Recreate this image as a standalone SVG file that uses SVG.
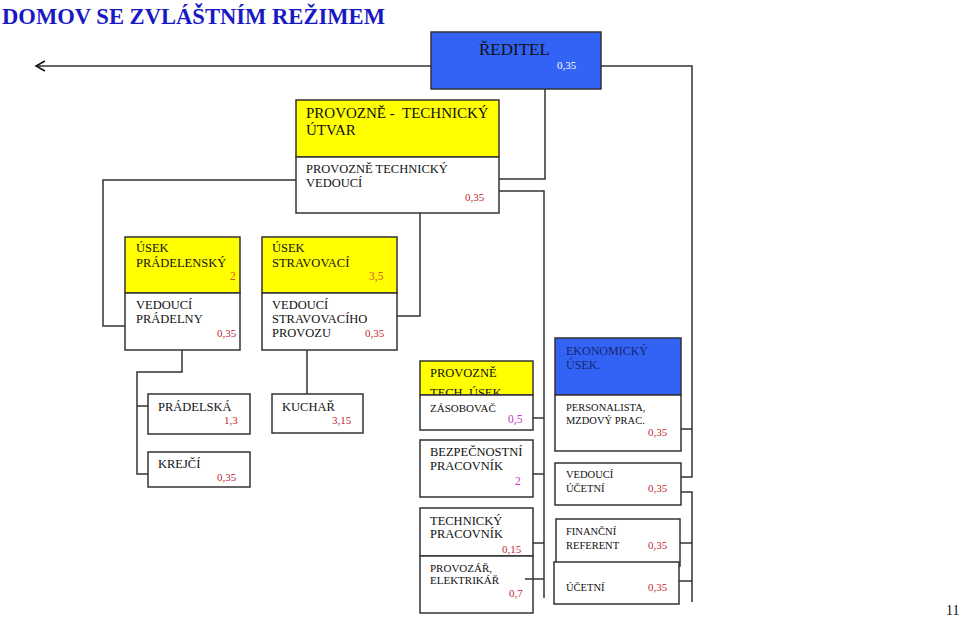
<svg xmlns="http://www.w3.org/2000/svg" width="960" height="617" viewBox="0 0 960 617" font-family="'Liberation Serif', 'Tinos', 'DejaVu Serif', 'Times New Roman', serif">
<defs>
<style>
.box{stroke:#333;stroke-width:1.5;}
.w{fill:#fff;}
.y{fill:#ffff00;}
.b{fill:#3263f5;}
text{font-family:'Liberation Serif','Tinos','DejaVu Serif','Times New Roman',serif;fill:#111;}
.t15{font-size:15px;}
.t12{font-size:12.5px;}
.t11{font-size:11px;}
.t105{font-size:10.5px;}
.v{font-size:11px;fill:#bf2a33;}
.vo{font-size:11.5px;fill:#dc5a2a;}
.vm{font-size:11.5px;fill:#cc33cc;}
.c{fill:none;stroke:#333;stroke-width:1.5;}
</style>
<marker id="open" markerUnits="userSpaceOnUse" markerWidth="14" markerHeight="14" refX="10" refY="7" orient="auto">
<path d="M1,2 L10,7 L1,12" fill="none" stroke="#111" stroke-width="1.5"/>
</marker>
</defs>
<rect width="960" height="617" fill="#fff"/>

<text x="2" y="24" font-size="23" font-weight="bold" style="fill:#1919c4" textLength="383" lengthAdjust="spacingAndGlyphs">DOMOV SE ZVLÁŠTNÍM REŽIMEM</text>

<g id="connectors">
<line class="c" x1="431" y1="66" x2="36" y2="66" marker-end="url(#open)"/>
<polyline class="c" points="601,66 692,66 692,477 681,477"/>
<line class="c" x1="681" y1="429" x2="692" y2="429"/>
<polyline class="c" points="681,492 692,492 692,602"/>
<line class="c" x1="680" y1="543" x2="692" y2="543"/>
<line class="c" x1="679" y1="581" x2="692" y2="581"/>
<polyline class="c" points="545,89 545,179 499,179"/>
<polyline class="c" points="499,191 544,191 544,598"/>
<line class="c" x1="533" y1="418" x2="544" y2="418"/>
<line class="c" x1="533" y1="474" x2="544" y2="474"/>
<line class="c" x1="533" y1="543" x2="544" y2="543"/>
<polyline class="c" points="296,180 103,180 103,326 125,326"/>
<polyline class="c" points="420,213 420,316 397,316"/>
<polyline class="c" points="182,350 182,372 137,372 137,474 148,474"/>
<line class="c" x1="137" y1="406" x2="148" y2="406"/>
<line class="c" x1="307" y1="350" x2="307" y2="394"/>
</g>

<g id="reditel">
<rect class="box b" x="431" y="32" width="170" height="57"/>
<text x="479" y="55" font-size="17">ŘEDITEL</text>
<text x="557" y="69" font-size="11" style="fill:#fff">0,35</text>
</g>

<g id="pt-utvar">
<rect class="box y" x="296" y="100" width="203" height="57"/>
<rect class="box w" x="296" y="157" width="203" height="56"/>
<text class="t15" x="306" y="118" xml:space="preserve">PROVOZNĚ -  TECHNICKÝ</text>
<text class="t15" x="306" y="135">ÚTVAR</text>
<text class="t12" x="306" y="173">PROVOZNĚ TECHNICKÝ</text>
<text class="t12" x="306" y="187">VEDOUCÍ</text>
<text class="v" x="465" y="201">0,35</text>
</g>

<g id="usek-pradelensky">
<rect class="box y" x="125" y="237" width="115" height="56"/>
<rect class="box w" x="125" y="293" width="115" height="57"/>
<text class="t12" x="136" y="252">ÚSEK</text>
<text class="t12" x="136" y="267">PRÁDELENSKÝ</text>
<text class="vo" x="230" y="280">2</text>
<text class="t12" x="136" y="309">VEDOUCÍ</text>
<text class="t12" x="136" y="323">PRÁDELNY</text>
<text class="v" x="217" y="337">0,35</text>
</g>

<g id="usek-stravovaci">
<rect class="box y" x="262" y="237" width="135" height="56"/>
<rect class="box w" x="262" y="293" width="135" height="57"/>
<text class="t12" x="272" y="252">ÚSEK</text>
<text class="t12" x="272" y="267">STRAVOVACÍ</text>
<text class="vo" x="369" y="280">3,5</text>
<text class="t12" x="272" y="309">VEDOUCÍ</text>
<text class="t12" x="272" y="323">STRAVOVACÍHO</text>
<text class="t12" x="272" y="337">PROVOZU</text>
<text class="v" x="365" y="337">0,35</text>
</g>

<g id="pradelska">
<rect class="box w" x="148" y="394" width="102" height="40"/>
<text class="t12" x="158" y="411">PRÁDELSKÁ</text>
<text class="v" x="224" y="424">1,3</text>
</g>

<g id="krejci">
<rect class="box w" x="148" y="452" width="102" height="35"/>
<text class="t12" x="158" y="468">KREJČÍ</text>
<text class="v" x="217" y="481">0,35</text>
</g>

<g id="kuchar">
<rect class="box w" x="272" y="394" width="91" height="39"/>
<text class="t12" x="282" y="411">KUCHAŘ</text>
<text class="v" x="332" y="424">3,15</text>
</g>

<g id="pt-usek">
<rect class="box y" x="420" y="361" width="113" height="34"/>
<text class="t12" x="430" y="377">PROVOZNĚ</text>
<text class="t12" x="430" y="397">TECH. ÚSEK</text>
<rect class="box w" x="420" y="395" width="113" height="35"/>
<text class="t11" x="430" y="412">ZÁSOBOVAČ</text>
<text class="vm" x="508" y="423">0,5</text>
</g>

<g id="bezpecnostni">
<rect class="box w" x="420" y="440" width="113" height="57"/>
<text class="t12" x="430" y="456">BEZPEČNOSTNÍ</text>
<text class="t12" x="430" y="470">PRACOVNÍK</text>
<text class="vm" x="515" y="485">2</text>
</g>

<g id="technicky">
<rect class="box w" x="420" y="508" width="113" height="48"/>
<text class="t12" x="430" y="525">TECHNICKÝ</text>
<text class="t12" x="430" y="538">PRACOVNÍK</text>
<text class="v" x="502" y="553">0,15</text>
</g>

<g id="provozar">
<rect class="box w" x="420" y="556" width="113" height="57"/>
<text class="t11" x="430" y="572">PROVOZÁŘ,</text>
<text class="t11" x="430" y="584">ELEKTRIKÁŘ</text>
<text class="v" x="509" y="597">0,7</text>
<line class="c" x1="525" y1="579" x2="544" y2="579"/>
</g>

<g id="ekonomicky">
<rect class="box b" x="555" y="338" width="126" height="57"/>
<rect class="box w" x="555" y="395" width="126" height="56"/>
<text x="566" y="355" font-size="12" style="fill:#18266e">EKONOMICKÝ</text>
<text x="566" y="369" font-size="12" style="fill:#18266e">ÚSEK.</text>
<text class="t105" x="566" y="411">PERSONALISTA,</text>
<text class="t105" x="566" y="424">MZDOVÝ PRAC.</text>
<text class="v" x="648" y="436">0,35</text>
</g>

<g id="vedouci-ucetni">
<rect class="box w" x="555" y="463" width="126" height="42"/>
<text class="t105" x="566" y="478">VEDOUCÍ</text>
<text class="t105" x="566" y="492">ÚČETNÍ</text>
<text class="v" x="648" y="492">0,35</text>
</g>

<g id="financni">
<rect class="box w" x="556" y="519" width="124" height="47"/>
<text class="t105" x="566" y="535">FINANČNÍ</text>
<text class="t105" x="566" y="549">REFERENT</text>
<text class="v" x="648" y="549">0,35</text>
</g>

<g id="ucetni">
<rect class="box w" x="554" y="562" width="125" height="42"/>
<text class="t105" x="566" y="591">ÚČETNÍ</text>
<text class="v" x="648" y="591">0,35</text>
</g>

<text x="946" y="615" font-size="14">11</text>
</svg>
